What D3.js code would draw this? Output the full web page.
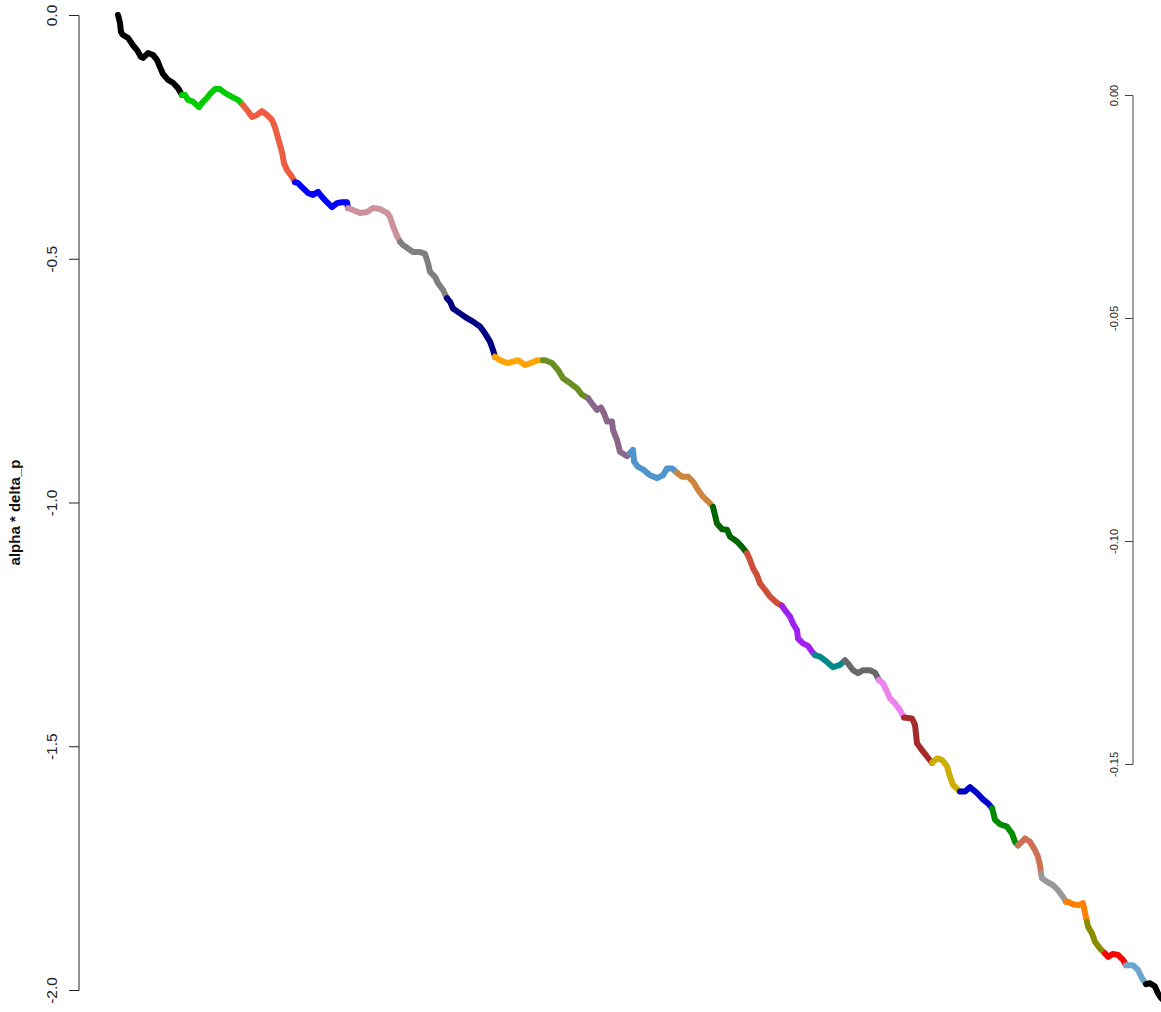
<!DOCTYPE html>
<html>
<head>
<meta charset="utf-8">
<script src="https://cdn.jsdelivr.net/npm/d3@7"></script>
<style>
  body { margin: 0; background: #fff; }
  text { font-family: "Liberation Sans", Arial, sans-serif; }
</style>
</head>
<body>
<div></div>
<script>
const width = 1161;
const height = 1012;

// segment colours, in drawing order
const segColors = [
  "#000000", "#00CD00", "#EE5C42", "#0000FF", "#CD919E", "#7F7F7F",
  "#000080", "#FFA500", "#6B8E23", "#8B668B", "#4F94CD", "#CD853F",
  "#006400", "#CD4F39", "#A020F0", "#008B8B", "#696969", "#EE82EE",
  "#A52A2A", "#CDAD00", "#0000CD", "#008B00", "#CD7054", "#999999",
  "#FF7F00", "#8B8B00", "#FF0000", "#6CA6CD", "#000000"
];

// observation index of each point, per segment
const segT = [
  [0, 2, 3, 5, 10, 15, 19, 23, 25, 30, 35, 39, 42, 45, 50, 55, 60, 64],
  [67, 70, 75, 81, 85, 89, 92, 97, 102, 107, 114, 120, 125],
  [129, 134, 139, 144, 149, 154, 157, 160, 164, 166, 169, 174, 177],
  [180, 185, 190, 195, 200, 204, 209, 214, 219, 224, 229, 230],
  [235, 242, 249, 255, 262, 269, 272, 275, 279, 282],
  [285, 290, 295, 302, 307, 310, 312, 317, 320, 325, 329],
  [332, 335, 342, 349, 355, 362, 367, 372, 375, 377],
  [382, 389, 395, 400, 407, 414, 420, 425],
  [427, 434, 440, 445, 452, 459, 464, 470],
  [474, 479, 483, 486, 489, 494, 495, 499, 502, 509, 512],
  [515, 516, 520, 525, 532, 539, 545, 549, 554, 559],
  [564, 570, 575, 580, 585, 592, 595],
  [597, 599, 604, 609, 612, 619, 624, 629],
  [632, 635, 639, 642, 647, 652, 659, 664],
  [667, 672, 675, 679, 680, 685, 690, 694, 697],
  [702, 709, 715, 722, 727],
  [730, 735, 740, 745, 752, 757, 761],
  [765, 769, 772, 777, 782, 786],
  [794, 797, 799, 804, 809, 814],
  [819, 824, 829, 832, 835, 842],
  [847, 852, 859, 865, 870, 874],
  [875, 877, 882, 889, 894, 897, 900],
  [904, 907, 912, 917, 920, 922, 923],
  [924, 929, 935, 940, 945, 948],
  [950, 955, 960, 965, 967, 969],
  [970, 974, 977, 982, 987],
  [990, 995, 1000, 1005, 1008],
  [1010, 1015, 1020, 1024, 1028],
  [1032, 1037, 1040, 1043, 1050]
];

// alpha * delta_p at each point, per segment
const segV = [
  [0.000, -0.016, -0.035, -0.041, -0.047, -0.062, -0.072, -0.086, -0.088, -0.078, -0.082, -0.092, -0.107, -0.121, -0.133, -0.139, -0.150, -0.164],
  [-0.164, -0.174, -0.178, -0.189, -0.178, -0.170, -0.162, -0.152, -0.152, -0.160, -0.168, -0.174, -0.185],
  [-0.195, -0.209, -0.205, -0.197, -0.205, -0.215, -0.230, -0.252, -0.281, -0.304, -0.318, -0.332, -0.343],
  [-0.345, -0.355, -0.365, -0.369, -0.363, -0.373, -0.384, -0.394, -0.386, -0.384, -0.384, -0.396],
  [-0.400, -0.406, -0.404, -0.396, -0.398, -0.406, -0.414, -0.433, -0.453, -0.465],
  [-0.472, -0.479, -0.486, -0.486, -0.490, -0.509, -0.527, -0.537, -0.550, -0.564, -0.581],
  [-0.588, -0.602, -0.612, -0.622, -0.629, -0.639, -0.653, -0.670, -0.687, -0.701],
  [-0.708, -0.714, -0.711, -0.708, -0.718, -0.713, -0.708, -0.708],
  [-0.708, -0.714, -0.728, -0.745, -0.755, -0.766, -0.779, -0.786],
  [-0.797, -0.810, -0.805, -0.817, -0.834, -0.834, -0.851, -0.872, -0.896, -0.905, -0.899],
  [-0.892, -0.916, -0.927, -0.932, -0.944, -0.950, -0.944, -0.930, -0.930, -0.939],
  [-0.947, -0.947, -0.957, -0.974, -0.988, -1.002, -1.009],
  [-1.026, -1.043, -1.055, -1.056, -1.070, -1.080, -1.091, -1.104],
  [-1.118, -1.135, -1.149, -1.166, -1.179, -1.193, -1.206, -1.212],
  [-1.221, -1.234, -1.248, -1.262, -1.279, -1.289, -1.294, -1.306, -1.313],
  [-1.316, -1.327, -1.338, -1.333, -1.324],
  [-1.330, -1.344, -1.350, -1.344, -1.344, -1.349, -1.364],
  [-1.371, -1.388, -1.402, -1.412, -1.426, -1.441],
  [-1.443, -1.456, -1.494, -1.508, -1.521, -1.534],
  [-1.525, -1.528, -1.541, -1.562, -1.579, -1.593],
  [-1.593, -1.584, -1.596, -1.609, -1.617, -1.627],
  [-1.634, -1.651, -1.660, -1.665, -1.679, -1.696, -1.703],
  [-1.696, -1.689, -1.696, -1.713, -1.727, -1.744, -1.761],
  [-1.771, -1.778, -1.785, -1.795, -1.809, -1.819],
  [-1.819, -1.824, -1.826, -1.822, -1.842, -1.860],
  [-1.870, -1.884, -1.901, -1.915, -1.925],
  [-1.932, -1.926, -1.928, -1.938, -1.949],
  [-1.949, -1.949, -1.959, -1.976, -1.988],
  [-1.986, -1.993, -2.007, -2.016, -2.030]
];

const leftTicks = [0, -0.5, -1, -1.5, -2];
const leftTickLabels = ["0.0", "-0.5", "-1.0", "-1.5", "-2.0"];
const rightTicks = [0, -0.05, -0.1, -0.15];
const rightTickLabels = ["0.00", "-0.05", "-0.10", "-0.15"];
const yLabel = "alpha * delta_p";

const svg = d3
  .select("div")
  .append("svg")
  .attr("width", width)
  .attr("height", height);

const x = d3.scaleLinear().domain([0, 1043]).range([118, 1161]);
const y = d3.scaleLinear().domain([0, -2]).range([15, 990]);
// secondary scale on the right
const y2 = d3.scaleLinear().domain([0, -0.15]).range([95, 764]);

// build segments, each one starts where the previous ended
const segments = segT.map((ts, i) => {
  const pts = ts.map((t, j) => [t, segV[i][j]]);
  if (i > 0) {
    const prevT = segT[i - 1];
    pts.unshift([prevT[prevT.length - 1], segV[i - 1][segV[i - 1].length - 1]]);
  }
  return { color: segColors[i], pts: pts };
});

const line = d3
  .line()
  .x((d) => x(d[0]))
  .y((d) => y(d[1]));

svg
  .selectAll("path.seg")
  .data(segments)
  .enter()
  .append("path")
  .attr("class", "seg")
  .attr("d", (d) => line(d.pts))
  .attr("fill", "none")
  .attr("stroke", (d) => d.color)
  .attr("stroke-width", 6)
  .attr("stroke-linejoin", "round")
  .attr("stroke-linecap", "round");

// left axis
const leftAxis = svg
  .append("g")
  .attr("transform", "translate(79,0)")
  .call(
    d3
      .axisLeft(y)
      .tickValues(leftTicks)
      .tickSize(10)
      .tickFormat((d, i) => leftTickLabels[i])
  );
leftAxis.select(".domain").attr("stroke", "#222").attr("d", "M-10,15.5H0V990.5H-10");
leftAxis.selectAll(".tick line").attr("stroke", "#222");
leftAxis
  .selectAll(".tick text")
  .attr("font-size", "15.5px")
  .attr("fill", "#222")
  .attr("text-anchor", "middle")
  .attr("x", null)
  .attr("dy", null)
  .attr("transform", "translate(-22,0) rotate(-90)");

// right axis, ticks and labels drawn on its left side
const rightAxis = svg
  .append("g")
  .attr("transform", "translate(1133,0)")
  .call(
    d3
      .axisLeft(y2)
      .tickValues(rightTicks)
      .tickSize(8)
      .tickFormat((d, i) => rightTickLabels[i])
  );
rightAxis.select(".domain").attr("stroke", "#444").attr("d", "M-8,95.5H0V764.5H-8");
rightAxis.selectAll(".tick line").attr("stroke", "#444");
rightAxis
  .selectAll(".tick text")
  .attr("font-size", "11px")
  .attr("fill", "#222")
  .attr("text-anchor", "middle")
  .attr("x", null)
  .attr("dy", null)
  .attr("transform", "translate(-15,0) rotate(-90)");

svg
  .append("text")
  .attr("transform", "translate(20," + (y(-1) + 10) + ") rotate(-90)")
  .attr("text-anchor", "middle")
  .attr("font-size", "15px")
  .attr("font-weight", "bold")
  .attr("fill", "#111")
  .text(yLabel);
</script>
</body>
</html>
